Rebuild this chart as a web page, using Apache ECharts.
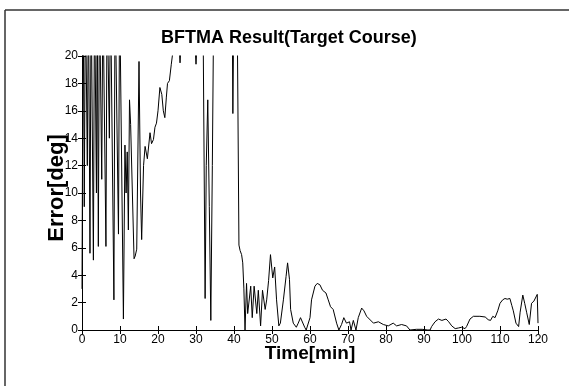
<!DOCTYPE html>
<html><head><meta charset="utf-8">
<script src="https://cdn.jsdelivr.net/npm/echarts@6/dist/echarts.min.js"></script>
<style>html,body{margin:0;padding:0;background:#fff}#c{width:569px;height:386px}</style>
</head><body><div id="c"></div>
<script>
var titleText = 'BFTMA Result(Target Course)';
var xName = 'Time[min]';
var yName = 'Error[deg]';
var xTicks = [0,10,20,30,40,50,60,70,80,90,100,110,120];
var yTicks = [0,2,4,6,8,10,12,14,16,18,20];
var times = [
 0.0,0.3,0.6,0.9,1.4,1.7,2.1,2.4,3.0,3.3,3.8,4.0,4.3,4.6,5.2,5.5,6.3,6.6,7.2,7.5,
 8.4,8.7,9.6,9.9,10.9,11.3,11.6,11.9,12.2,12.5,12.8,13.7,14.0,14.4,15.0,15.4,15.7,16.2,16.6,17.2,
 17.9,18.3,18.8,19.2,19.6,20.0,20.5,21.0,21.4,21.8,22.2,22.5,23.0,23.5,24.0,24.5,25.5,25.8,26.1,29.7,
 30.0,30.3,31.6,31.8,32.4,32.7,33.1,33.5,33.9,34.3,34.7,39.5,39.7,40.0,40.8,41.3,41.6,42.0,42.3,42.6,
 42.9,43.3,43.6,44.4,44.8,45.3,46.0,46.4,47.0,47.5,48.2,48.6,49.1,49.6,50.2,50.7,51.2,51.8,52.2,53.0,
 53.7,54.1,54.6,54.9,55.6,56.4,56.9,57.5,58.0,58.6,59.0,60.0,60.4,61.3,61.9,62.6,63.3,64.2,64.8,65.4,
 66.1,67.0,67.6,68.3,68.9,69.6,70.4,70.8,71.4,72.1,72.7,73.6,74.2,74.9,76.7,78.0,79.3,80.6,81.9,82.8,
 84.1,85.4,86.3,86.8,88.0,89.5,91.0,91.6,92.0,92.9,93.8,94.7,95.8,96.5,97.3,98.2,99.1,99.9,100.8,101.2,
 102.1,103.0,104.7,106.1,106.9,107.5,108.1,108.7,109.4,110.0,110.7,111.3,111.9,112.6,113.1,113.5,114.2,114.9,115.3,116.0,
 116.5,117.0,117.7,118.3,118.9,119.4,119.8,120.0
];
var errors = [
 3,25,9,25,12,25,5.6,25,5.1,25,10,25,6.1,25,11,25,6.1,25,14,25,
 2.2,25,7,25,0.8,13.5,10,13,7.3,16.8,15,5.2,5.4,5.9,19.6,10,6.6,12,13.4,12.5,
 14.4,13.6,13.9,14.8,15.1,16,17.7,17.2,16,15.5,17,18,18.2,19.4,20.5,21,21,19.5,21,21,
 19.4,21,21,25,2.3,12,16.8,9,0.7,12,25,25,15.8,25,25,6.2,5.8,5.5,4.9,3,
 0,3.4,1.2,3.2,0.9,3.2,1.2,2.9,0.3,2.9,1.5,2.2,3.6,5.5,3.8,4.6,2.2,0.3,0.5,2.2,
 3.9,4.9,3.7,1.5,0.5,0.2,0.5,0.9,0.9,0.2,0,0.9,2.2,3.2,3.4,3.3,2.9,2.7,2.2,1.7,
 1.5,0.5,0,0.4,0.9,0.5,0.6,0,0.7,0,0.9,1.6,1.4,1.0,0.5,0.6,0.4,0.3,0.5,0.3,
 0.4,0.3,0,0.1,0.05,0.05,0,0,0.25,0.6,0.8,0.7,0.8,0.6,0.3,0.1,0.15,0.2,0.1,0.25,
 0.8,1.0,1.0,0.95,0.75,0.7,1.0,0.9,1.4,1.95,2.2,2.3,2.25,2.3,1.8,1.4,0.5,0.25,1.3,2.55,
 1.95,1.3,0.4,1.95,2.1,2.05,2.6,0.5
];
var pts = times.map(function(t,i){return [t, errors[i]];});
var font = '"Liberation Sans", Arial, sans-serif';
var chart = echarts.init(document.getElementById('c'));
var axBase = {
  type:'value', min:0, splitLine:{show:false},
  axisLine:{show:true, lineStyle:{color:'#000', width:1}},
  axisTick:{show:true, inside:true, length:4, lineStyle:{color:'#000'}}
};
chart.setOption({
  animation:false,
  backgroundColor:'#fff',
  title:{text:titleText, left:156, top:24, textStyle:{fontFamily:font, fontWeight:'bold', fontSize:18, color:'#000'}},
  grid:{left:82, right:31, top:56, bottom:56},
  xAxis:[
    Object.assign({}, axBase, {position:'bottom', max:120, interval:10,
      axisLabel:{fontFamily:font, fontSize:12, color:'#000', margin:4}}),
    Object.assign({}, axBase, {position:'top', max:120, interval:10, axisLabel:{show:false}})
  ],
  yAxis:[
    Object.assign({}, axBase, {position:'left', max:20, interval:2,
      axisLabel:{fontFamily:font, fontSize:12, color:'#000', margin:4}}),
    Object.assign({}, axBase, {position:'right', max:20, interval:2, axisLabel:{show:false}})
  ],
  series:[{type:'line', data:pts, showSymbol:false, clip:true,
    lineStyle:{color:'#000', width:1}, xAxisIndex:0, yAxisIndex:0}],
  graphic:[
    {type:'line', shape:{x1:5, y1:10, x2:569, y2:10}, style:{stroke:'#333', lineWidth:1.5}},
    {type:'line', shape:{x1:5, y1:10, x2:5, y2:386}, style:{stroke:'#333', lineWidth:1.5}},
    {type:'text', x:310, y:354, style:{text:xName, fontFamily:font, fontWeight:'bold', fontSize:19, fill:'#000', textAlign:'center', textVerticalAlign:'middle'}},
    {type:'text', x:57, y:188, rotation:Math.PI/2, style:{text:yName, fontFamily:font, fontWeight:'bold', fontSize:22, fill:'#000', textAlign:'center', textVerticalAlign:'middle'}}
  ]
});
</script></body></html>
